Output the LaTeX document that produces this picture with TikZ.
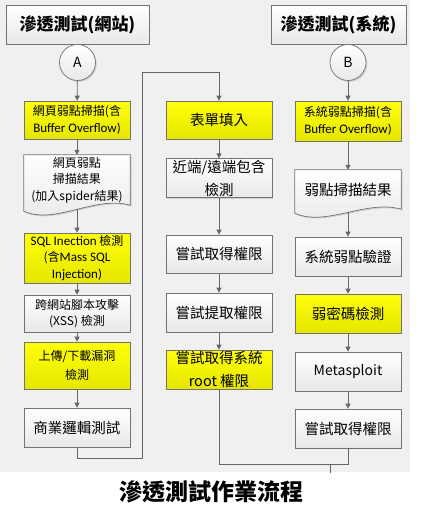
\documentclass[tikz,border=0pt]{standalone}
\usepackage{fontspec}
\setmainfont{Noto Sans CJK TC}
\newfontfamily\lat{Carlito}
\usetikzlibrary{arrows.meta,shadows,backgrounds}

\begin{document}
\begin{tikzpicture}[
x=1pt,y=-1pt,
>={Triangle[length=5pt,width=5pt]},
line/.style={draw=black!60,line width=0.8pt},
base/.style={align=center,inner sep=1pt,minimum width=106pt,font=\fontsize{12}{16.5}\selectfont},
shade/.style={draw=black!55,line width=0.7pt,top color=white,bottom color=black!9,
  drop shadow={shadow xshift=1.3pt,shadow yshift=-1.3pt,opacity=0.3}},
box/.style={base,shade,minimum height=38pt},
hbox/.style={box,top color=yellow!96!white,bottom color=yellow!90!black},
doc/.style={base},
big/.style={font=\fontsize{14.5}{19}\selectfont},
ttl/.style={box,minimum height=39pt,font=\fontsize{17}{20}\selectfont\bfseries},
conn/.style={shade,circle,minimum size=36pt,inner sep=0pt,font=\fontsize{14}{14}\selectfont}
]

% background
\begin{pgfonlayer}{background}
\fill[black!6] (0,0) rectangle (410,472);
\end{pgfonlayer}
\useasboundingbox (0,0) rectangle (423,512);

% web column
\node[ttl,minimum width=143pt] (webT) at (77.5,24.5) {滲透測試(網站)};
\node[conn] (cA) at (77.5,62.5) {A};
\node[hbox] (scanW) at (77,120) {網頁弱點掃描(含\\{\lat\fontsize{13}{16}\selectfont Buffer Overflow)}};
\node[doc,minimum height=50pt] (resW) at (77,180) {網頁弱點\\掃描結果\\(加入spider結果)};
\node[hbox,minimum height=50pt] (sqli) at (77,258) {{\lat\fontsize{13}{16}\selectfont SQL Inection} 檢測\\(含{\lat\fontsize{13}{16}\selectfont Mass SQL}\\{\lat\fontsize{13}{16}\selectfont Injection)}};
\node[box,minimum height=37pt] (xss) at (77,313.5) {跨網站腳本攻擊\\(XSS) 檢測};
\node[hbox,minimum height=47pt] (upld) at (77,365.5) {上傳/下載漏洞\\[3pt]檢測};
\node[box,big,minimum height=39pt] (logic) at (77,427.5) {商業邏輯測試};

% middle column
\node[hbox,big] (form) at (219,120) {表單填入};
\node[box,big] (incl) at (219,178) {近端/遠端包含\\[4pt]檢測};
\node[box,big] (getM) at (219,254) {嘗試取得權限};
\node[box,big,minimum height=39pt] (pull) at (219,312.5) {嘗試提取權限};
\node[hbox,big,minimum height=39pt] (root) at (219,369.5) {嘗試取得系統\\[4pt]root 權限};

% system column
\node[ttl,minimum width=135pt] (sysT) at (338.5,24.5) {滲透測試(系統)};
\node[conn] (cB) at (348,62.5) {B};
\node[hbox,minimum height=40pt] (scanS) at (348,121) {系統弱點掃描(含\\{\lat\fontsize{13}{16}\selectfont Buffer Overflow)}};
\node[doc,big,minimum height=39pt] (resS) at (348,189.5) {弱點掃描結果};
\node[box,big,minimum height=39pt] (verS) at (348,256.5) {系統弱點驗證};
\node[hbox,big,minimum height=39pt] (weak) at (348,313.5) {弱密碼檢測};
\node[box,minimum height=39pt,font=\fontsize{14}{16}\selectfont] (msf) at (348,371.5) {Metasploit};
\node[box,big,minimum height=39pt] (getS) at (348,428.5) {嘗試取得權限};

% document shapes
\begin{pgfonlayer}{background}
\draw[shade] (resW.north west) -- (resW.north east) -- (resW.south east)
  .. controls +(-35pt,10pt) and +(31pt,-14pt) .. ([yshift=-6pt]resW.south west) -- cycle;
\draw[shade] (resS.north west) -- (resS.north east) -- (resS.south east)
  .. controls +(-35pt,10pt) and +(31pt,-14pt) .. ([yshift=-4pt]resS.south west) -- cycle;
\end{pgfonlayer}

% arrows
\draw[line,->] (cA) -- (scanW);
\draw[line,->] (scanW) -- (resW);
\draw[line,->] ([yshift=-4pt]resW.south) -- (sqli);
\draw[line,->] (sqli) -- (xss);
\draw[line,->] (xss) -- (upld);
\draw[line,->] (upld) -- (logic);

\draw[line,->] (form) -- (incl);
\draw[line,->] (incl) -- (getM);
\draw[line,->] (getM) -- (pull);
\draw[line,->] (pull) -- (root);

\draw[line,->] (cB) -- (scanS);
\draw[line,->] (scanS) -- (resS);
\draw[line,->] ([yshift=-3pt]resS.south) -- (verS);
\draw[line,->] (verS) -- (weak);
\draw[line,->] (weak) -- (msf);
\draw[line,->] (msf) -- (getS);

% web -> middle
\coordinate (loopB) at (142,458);
\coordinate (loopT) at (142,72);
\draw[line,->] (logic.south) |- (loopB) -- (loopT) -| (form.north);

% join at bottom
\coordinate (join) at (348,464);
\coordinate (outT) at (330,464);
\coordinate (outB) at (330,473);
\draw[line] (root.south) |- (join) -- (getS.south);
\draw[line] (outT) -- (outB);

% caption
\node[font=\fontsize{23}{28}\selectfont\bfseries] (cap) at (211,492) {滲透測試作業流程};
\end{tikzpicture}
\end{document}
